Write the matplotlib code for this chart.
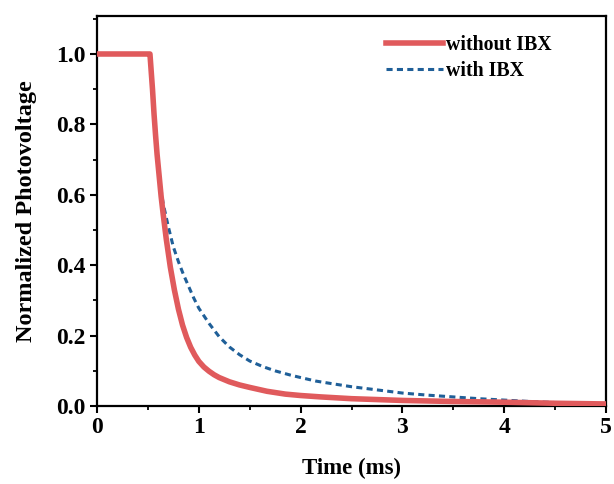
import matplotlib
matplotlib.use("Agg")
import matplotlib.pyplot as plt
from matplotlib.ticker import MultipleLocator

# ---------------------------------------------------------------------
# Data
# ---------------------------------------------------------------------

t_without = [0.0, 0.25, 0.5, 0.52, 0.53, 0.545, 0.56, 0.575, 0.59,
             0.61, 0.63, 0.65, 0.68, 0.72, 0.76, 0.80, 0.84, 0.88, 0.92, 0.96, 1.0,
             1.05, 1.1, 1.15, 1.2, 1.3, 1.4, 1.5, 1.67, 1.85, 2.0, 2.2, 2.5, 3.0,
             3.5, 4.0, 4.5, 5.0]
v_without = [1.0, 1.0, 1.0, 1.0, 0.96, 0.90, 0.83, 0.77, 0.715,
             0.655, 0.595, 0.545, 0.475, 0.395, 0.33, 0.275, 0.230, 0.195, 0.167, 0.145, 0.127,
             0.111, 0.099, 0.089, 0.081, 0.069, 0.060, 0.053, 0.042, 0.034, 0.030, 0.026, 0.021, 0.016,
             0.013, 0.011, 0.008, 0.006]

t_with = [0.61, 0.65, 0.70, 0.75, 0.80, 0.85, 0.90, 0.95, 1.0, 1.1, 1.2, 1.3,
          1.4, 1.5, 1.63, 1.75, 1.9, 2.0, 2.15, 2.3, 2.5, 2.75, 3.0, 3.25,
          3.5, 3.75, 4.0, 4.25, 4.5, 4.75, 5.0]
v_with = [0.65, 0.575, 0.51, 0.452, 0.41, 0.373, 0.34, 0.307, 0.278, 0.235, 0.197, 0.168,
          0.146, 0.128, 0.112, 0.100, 0.088, 0.081, 0.071, 0.064, 0.055, 0.046, 0.037, 0.031,
          0.026, 0.021, 0.017, 0.013, 0.010, 0.007, 0.005]

# ---------------------------------------------------------------------
# Visualize
# ---------------------------------------------------------------------

plt.rcParams["font.family"] = ["Liberation Serif", "DejaVu Serif"]
plt.rcParams["font.weight"] = "bold"

fig = plt.figure(figsize=(6.14, 4.84), dpi=100)
ax = fig.add_axes([0.158, 0.161, 0.829, 0.806])

ax.plot(t_with, v_with, color="#1f5f98", lw=2.2, ls=(0, (2.0, 1.4)), label="with IBX", zorder=2)
ax.plot(t_without, v_without, color="#e05a5c", lw=4.0, label="without IBX", zorder=3,
        solid_joinstyle="round")

ax.set_xlim(0, 5)
ax.set_ylim(0, 1.108)
ax.xaxis.set_major_locator(MultipleLocator(1))
ax.xaxis.set_minor_locator(MultipleLocator(0.5))
ax.yaxis.set_major_locator(MultipleLocator(0.2))
ax.yaxis.set_minor_locator(MultipleLocator(0.1))
ax.yaxis.set_major_formatter(plt.FormatStrFormatter("%.1f"))

for s in ax.spines.values():
    s.set_linewidth(1.6)
ax.tick_params(which="major", direction="out", length=5, width=1.5, labelsize=17, pad=3)
ax.tick_params(which="minor", direction="out", length=3, width=1.3)

ax.set_xlabel("Time (ms)", fontsize=16.5, fontweight="bold", labelpad=14)
ax.set_ylabel("Normalized Photovoltage", fontsize=17.5, fontweight="bold", labelpad=14)

handles, labels = ax.get_legend_handles_labels()
ax.legend(handles[::-1], labels[::-1], loc="upper left", bbox_to_anchor=(0.532, 0.998),
          frameon=False, handlelength=2.9, handletextpad=0.15,
          labelspacing=0.3, prop={"weight": "bold", "size": 14.3})

fig.savefig("out.png", dpi=100)
